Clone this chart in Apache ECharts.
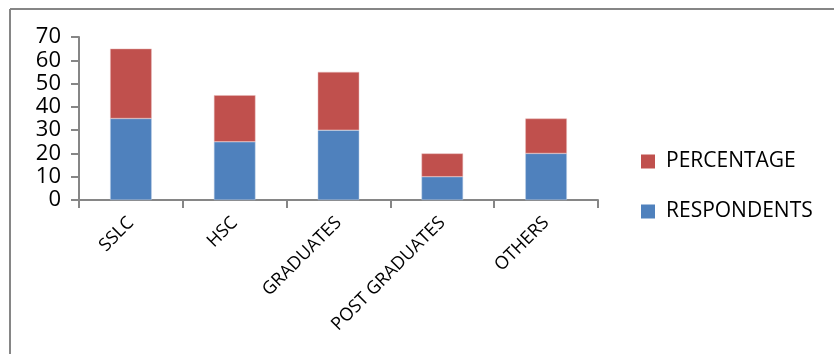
<!DOCTYPE html>
<html>
<head>
<meta charset="utf-8">
<script src="https://cdn.jsdelivr.net/npm/echarts@6/dist/echarts.min.js"></script>
<style>
  html, body { margin: 0; padding: 0; background: #fff; }
  #chart { width: 835px; height: 354px; }
</style>
</head>
<body>
<div id="chart"></div>
<script>
// Education levels of respondents
const categories = ['SSLC', 'HSC', 'GRADUATES', 'POST GRADUATES', 'OTHERS'];
const respondents = [35, 25, 30, 10, 20];
const percentage = [30, 20, 25, 10, 15];
const yTicks = { min: 0, max: 70, interval: 10 };

const axisGray = '#868686';
const chart = echarts.init(document.getElementById('chart'));

chart.setOption({
  animation: false,
  textStyle: { fontFamily: 'Open Sans' },
  graphic: [
    // frame: top and left edges
    { type: 'line', shape: { x1: 10, y1: 9, x2: 834, y2: 9 }, style: { stroke: axisGray, lineWidth: 2 } },
    { type: 'line', shape: { x1: 10, y1: 9, x2: 10, y2: 354 }, style: { stroke: axisGray, lineWidth: 2 } }
  ],
  grid: { left: 79, right: 237, top: 37, bottom: 154 },
  legend: {
    orient: 'vertical',
    left: 641,
    top: 151,
    padding: 0,
    itemWidth: 14,
    itemHeight: 14,
    itemGap: 29,
    icon: 'rect',
    itemStyle: { borderWidth: 0 },
    data: ['PERCENTAGE', 'RESPONDENTS'],
    textStyle: { fontSize: 21, color: '#000', fontFamily: 'Open Sans', padding: [0, 0, 0, 6] }
  },
  xAxis: {
    type: 'category',
    data: categories,
    axisLine: { lineStyle: { color: axisGray, width: 2 } },
    axisTick: { show: true, length: 8, lineStyle: { color: axisGray, width: 2 } },
    axisLabel: { rotate: 45, margin: 20, fontSize: 18, color: '#000', interval: 0 }
  },
  yAxis: {
    type: 'value',
    min: yTicks.min,
    max: yTicks.max,
    interval: yTicks.interval,
    splitLine: { show: false },
    axisLine: { show: true, lineStyle: { color: axisGray, width: 2 } },
    axisTick: { show: true, length: 8, lineStyle: { color: axisGray, width: 2 } },
    axisLabel: { fontSize: 22, color: '#000', margin: 18 }
  },
  series: [
    {
      name: 'RESPONDENTS',
      type: 'bar',
      stack: 'total',
      barWidth: '40%',
      data: respondents,
      itemStyle: { color: '#4f81bd', borderColor: '#b9cde5', borderWidth: 0.5 }
    },
    {
      name: 'PERCENTAGE',
      type: 'bar',
      stack: 'total',
      barWidth: '40%',
      data: percentage,
      itemStyle: { color: '#c0504d', borderColor: '#e6b9b8', borderWidth: 0.5 }
    }
  ]
});
</script>
</body>
</html>
